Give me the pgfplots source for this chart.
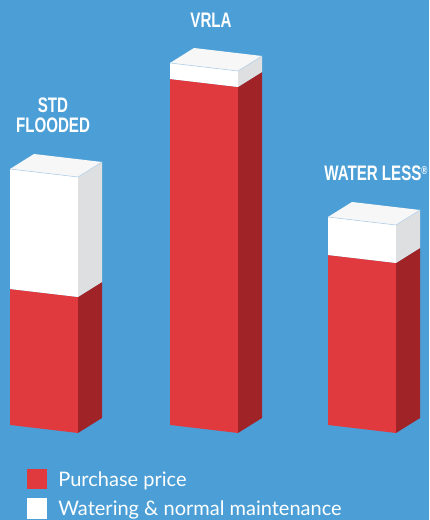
\documentclass[border=0pt]{standalone}
\usepackage{fontspec}
\usepackage{pgfplots}
\pgfplotsset{compat=1.18}
\setmainfont{Lato}
\newfontfamily\headfont[FakeStretch=0.72]{Liberation Sans}

\definecolor{bgblue}{HTML}{4C9FD6}
\definecolor{redfront}{HTML}{E03A3F}
\definecolor{redside}{HTML}{A02327}
\definecolor{whitetop}{HTML}{F7F7F7}
\definecolor{whiteside}{HTML}{DDDFE1}
\definecolor{edgeblue}{HTML}{B9D3EA}

% one 3D bar: #1 = left x of the front face, #2 = purchase price, #3 = watering/maintenance
\newcommand\isobar[3]{%
  \pgfmathsetmacro\pXa{#1}\pgfmathsetmacro\pXb{#1+68}%
  \pgfmathsetmacro\pXc{#1+92}\pgfmathsetmacro\pXd{#1+24}%
  \pgfmathsetmacro\pRa{95+#2}\pgfmathsetmacro\pRb{87+#2}\pgfmathsetmacro\pRc{102+#2}%
  \pgfmathsetmacro\pWa{95+#2+#3}\pgfmathsetmacro\pWb{87+#2+#3}%
  \pgfmathsetmacro\pWc{102+#2+#3}\pgfmathsetmacro\pWd{110+#2+#3}%
  \edef\pTmp{%
    \noexpand\addplot[fill=redfront,draw=none] coordinates {(\pXa,95) (\pXb,87) (\pXb,\pRb) (\pXa,\pRa)} -- cycle;
    \noexpand\addplot[fill=redside,draw=none] coordinates {(\pXb,87) (\pXc,102) (\pXc,\pRc) (\pXb,\pRb)} -- cycle;
    \noexpand\addplot[fill=white,draw=none] coordinates {(\pXa,\pRa) (\pXb,\pRb) (\pXb,\pWb) (\pXa,\pWa)} -- cycle;
    \noexpand\addplot[fill=whiteside,draw=none] coordinates {(\pXb,\pRb) (\pXc,\pRc) (\pXc,\pWc) (\pXb,\pWb)} -- cycle;
    \noexpand\addplot[fill=whitetop,draw=none] coordinates {(\pXa,\pWa) (\pXb,\pWb) (\pXc,\pWc) (\pXd,\pWd)} -- cycle;
    \noexpand\addplot[draw=edgeblue,line width=0.3pt] coordinates {(\pXa,\pWa) (\pXb,\pWb) (\pXc,\pWc)};
  }%
  \pTmp
}

\begin{document}
\begin{tikzpicture}
\useasboundingbox (0,0) rectangle (214.5pt,260pt);
\clip (0,0) rectangle (214.5pt,260pt);
\begin{axis}[
  scale only axis,
  width=214.5pt, height=260pt,
  xmin=0, xmax=429, ymin=0, ymax=520,
  hide axis,
  clip=false,
]
  \addplot[fill=bgblue,draw=none] coordinates {(0,0) (429,0) (429,520) (0,520)} -- cycle;

  % STD FLOODED, VRLA, WATER LESS
  \isobar{10}{136}{120}
  \isobar{170}{346}{16}
  \isobar{328}{170}{38}

  \node[white,align=center,font=\headfont\bfseries\fontsize{10.5}{10}\selectfont]
    at (axis cs:53,405) {STD\\FLOODED};
  \node[white,font=\headfont\bfseries\fontsize{10.5}{10}\selectfont]
    at (axis cs:211,500) {VRLA};
  \node[white,anchor=east,inner sep=0pt,font=\headfont\bfseries\fontsize{10.5}{10}\selectfont]
    at (axis cs:428,347) {WATER LESS\raisebox{0.55ex}{\scalebox{0.55}{®}}};

  % legend
  \addplot[fill=redfront,draw=none] coordinates {(27,31) (47,31) (47,51) (27,51)} -- cycle;
  \addplot[fill=white,draw=none] coordinates {(27,1) (47,1) (47,22) (27,22)} -- cycle;
  \node[white,anchor=base west,inner sep=0pt,font=\fontsize{10}{10}\selectfont]
    at (axis cs:58,33) {Purchase price};
  \node[white,anchor=base west,inner sep=0pt,font=\fontsize{10}{10}\selectfont]
    at (axis cs:58,4) {Watering \& normal maintenance};
\end{axis}
\end{tikzpicture}
\end{document}
